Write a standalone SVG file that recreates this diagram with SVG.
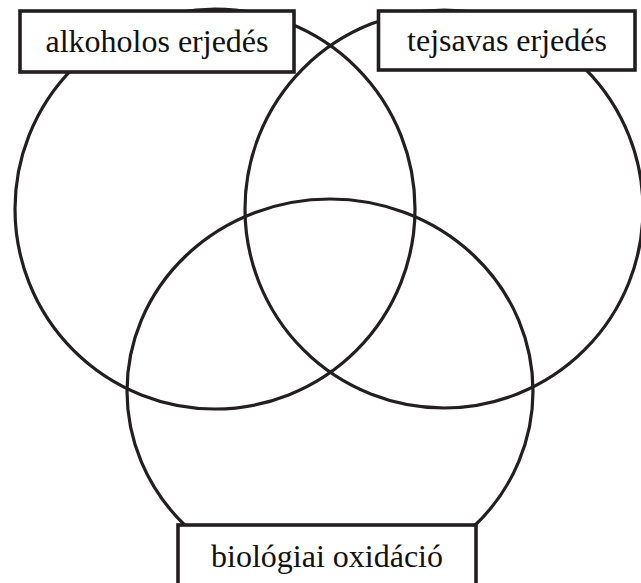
<svg xmlns="http://www.w3.org/2000/svg" width="641" height="583" viewBox="0 0 641 583">
<style>
.c{fill:none;stroke:#231f20;stroke-width:3.2}
.b{fill:#fff;stroke:#231f20;stroke-width:3.6}
.t{font-family:"Liberation Serif","Times New Roman",Times,serif;font-size:32px;fill:#111;text-anchor:middle}
</style>
<rect width="641" height="583" fill="#fff"/>
<g id="connectors">
<circle id="circle-alkoholos" class="c" cx="215" cy="209" r="200"/>
<circle id="circle-tejsavas" class="c" cx="444" cy="209" r="199"/>
<ellipse id="circle-oxidacio" class="c" cx="330" cy="391" rx="203" ry="192"/>
</g>
<g id="node-alkoholos">
<rect class="b" x="20" y="11" width="274" height="61"/>
<text class="t" x="157" y="52">alkoholos erjedés</text>
</g>
<g id="node-tejsavas">
<rect class="b" x="378.5" y="11" width="256.5" height="59"/>
<text class="t" x="507" y="51">tejsavas erjedés</text>
</g>
<g id="node-oxidacio">
<rect class="b" x="178" y="525" width="298" height="80"/>
<text class="t" x="327" y="567">biológiai oxidáció</text>
</g>
</svg>
